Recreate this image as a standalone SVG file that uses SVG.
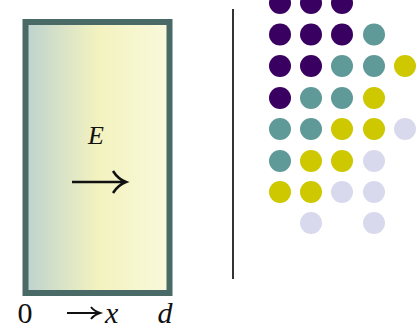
<svg xmlns="http://www.w3.org/2000/svg" width="420" height="328" viewBox="0 0 420 328">
<defs>
<linearGradient id="g" x1="0" y1="0" x2="1" y2="0">
<stop offset="0" stop-color="#bdd3cf"/>
<stop offset="0.5" stop-color="#f3f2bf"/>
<stop offset="1" stop-color="#f9f9dc"/>
</linearGradient>
<style>
.t{font-family:"Liberation Serif",serif;font-style:italic;fill:#111;}
.n{font-family:"Liberation Serif",serif;fill:#111;}
.P{fill:#390061}.T{fill:#609a98}.Y{fill:#cdc800}.L{fill:#d9d9ee}
</style>
</defs>
<rect width="420" height="328" fill="#fff"/>
<g id="slab">
<rect x="25.5" y="22" width="144" height="271" fill="url(#g)" stroke="#4a6a67" stroke-width="6"/>
<text class="t" x="96" y="144" font-size="26" text-anchor="middle">E</text>
<path d="M72 182 H124 M113 171 Q118 179 126 182 Q118 185 113 193" fill="none" stroke="#111" stroke-width="2.5"/>
</g>
<g id="labels">
<text class="n" x="25" y="323" font-size="30" text-anchor="middle">0</text>
<path d="M67 313 H98 M91 307 Q94 311 100 313 Q94 315 91 319" fill="none" stroke="#111" stroke-width="2"/>
<text class="t" x="105" y="323" font-size="30">x</text>
<text class="t" x="165" y="323" font-size="30" text-anchor="middle">d</text>
</g>
<g id="connectors">
<line x1="233" y1="9" x2="233" y2="279" stroke="#333" stroke-width="2"/>
</g>
<g id="dots">
<circle class="P" cx="280" cy="3" r="11"/><circle class="P" cx="311" cy="3" r="11"/><circle class="P" cx="342" cy="3" r="11"/>
<circle class="P" cx="280" cy="34.5" r="11"/><circle class="P" cx="311" cy="34.5" r="11"/><circle class="P" cx="342" cy="34.5" r="11"/><circle class="T" cx="374" cy="34.5" r="11"/>
<circle class="P" cx="280" cy="66" r="11"/><circle class="P" cx="311" cy="66" r="11"/><circle class="T" cx="342" cy="66" r="11"/><circle class="T" cx="374" cy="66" r="11"/><circle class="Y" cx="405" cy="66" r="11"/>
<circle class="P" cx="280" cy="98" r="11"/><circle class="T" cx="311" cy="98" r="11"/><circle class="T" cx="342" cy="98" r="11"/><circle class="Y" cx="374" cy="98" r="11"/>
<circle class="T" cx="280" cy="129" r="11"/><circle class="T" cx="311" cy="129" r="11"/><circle class="Y" cx="342" cy="129" r="11"/><circle class="Y" cx="374" cy="129" r="11"/><circle class="L" cx="405" cy="129" r="11"/>
<circle class="T" cx="280" cy="161" r="11"/><circle class="Y" cx="311" cy="161" r="11"/><circle class="Y" cx="342" cy="161" r="11"/><circle class="L" cx="374" cy="161" r="11"/>
<circle class="Y" cx="280" cy="192" r="11"/><circle class="Y" cx="311" cy="192" r="11"/><circle class="L" cx="342" cy="192" r="11"/><circle class="L" cx="374" cy="192" r="11"/>
<circle class="L" cx="311" cy="223" r="11"/><circle class="L" cx="374" cy="223" r="11"/>
</g>
</svg>
